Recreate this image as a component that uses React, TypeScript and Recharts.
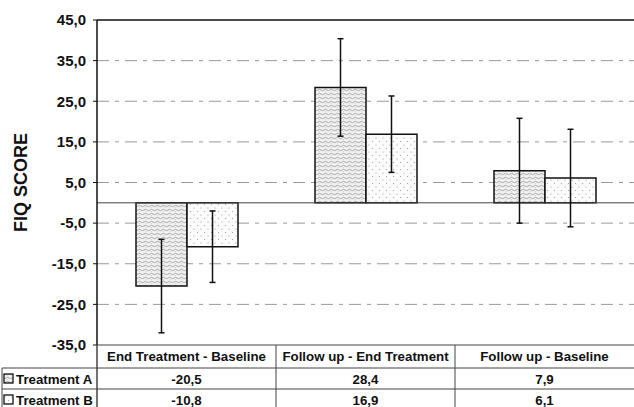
import React from "react";
import {
  BarChart, Bar, XAxis, YAxis, CartesianGrid, ErrorBar, ReferenceLine,
} from "recharts";

const categories = ["End Treatment - Baseline", "Follow up - End Treatment", "Follow up - Baseline"];
const treatmentA = [-20.5, 28.4, 7.9];
const treatmentB = [-10.8, 16.9, 6.1];
const errorA = [11.5, 12.0, 12.9];
const errorB = [8.8, 9.4, 12.0];
const yTicks = [-35, -25, -15, -5, 5, 15, 25, 35, 45];

const W = 634;
const H = 407;
const LEFT = 97;
const TABLE_H = 62;
const BAND = (W - LEFT) / categories.length;
const FONT = "'Liberation Sans', Arial, Helvetica, sans-serif";
const LINE = "#444";

const data = categories.map((name, i) => ({
  name,
  a: treatmentA[i],
  b: treatmentB[i],
  errA: errorA[i],
  errB: errorB[i],
}));

const fmt = (v: number) => v.toFixed(1).replace(".", ",");

// one column of the data table under the plot, plus the row labels on the first one
const TableTick = (props: any) => {
  const { x, y, payload } = props;
  const i = payload.index ?? props.index ?? 0;
  const left = x - BAND / 2;
  const right = x + BAND / 2;
  const r1 = y + 23;
  const r2 = y + 44;
  const textStyle = { fontFamily: FONT, fontWeight: 700, fontSize: 13.3, fill: "#111" };
  return (
    <g>
      <line x1={left} y1={y} x2={right} y2={y} stroke={LINE} strokeWidth={1.2} />
      <line x1={left} y1={r1} x2={right} y2={r1} stroke={LINE} />
      <line x1={left} y1={r2} x2={right} y2={r2} stroke={LINE} />
      <line x1={left} y1={y} x2={left} y2={H} stroke={LINE} strokeWidth={i === 0 ? 1.5 : 1} />
      <text x={x} y={y + 16} textAnchor="middle" {...textStyle}>{payload.value}</text>
      <text x={x} y={y + 39} textAnchor="middle" {...textStyle}>{fmt(treatmentA[i])}</text>
      <text x={x} y={y + 60} textAnchor="middle" {...textStyle}>{fmt(treatmentB[i])}</text>
      {i === 0 && (
        <g>
          <line x1={2} y1={r1} x2={left} y2={r1} stroke={LINE} />
          <line x1={2} y1={r2} x2={left} y2={r2} stroke={LINE} />
          <line x1={2} y1={r1} x2={2} y2={H} stroke={LINE} />
          <rect x={4} y={r1 + 6} width={9} height={9} fill="url(#patA)" stroke="#111" strokeWidth={1.3} />
          <rect x={4} y={r2 + 6} width={9} height={9} fill="url(#patB)" stroke="#111" strokeWidth={1.3} />
          <text x={16} y={y + 39} {...textStyle}>Treatment A</text>
          <text x={16} y={y + 60} {...textStyle}>Treatment B</text>
        </g>
      )}
    </g>
  );
};

const YLabel = (props: any) => {
  const cy = props.viewBox ? props.viewBox.y + props.viewBox.height / 2 : 182;
  return (
    <text
      x={21}
      y={cy}
      transform={`rotate(-90, 21, ${cy})`}
      textAnchor="middle"
      dominantBaseline="central"
      style={{ fontFamily: FONT, fontWeight: 700, fontSize: 18, fill: "#111" }}
    >
      FIQ SCORE
    </text>
  );
};

export default function App() {
  return (
    <div style={{ position: "absolute", left: 0, top: 0, width: W, height: H, background: "#fff" }}>
      <BarChart
        width={W}
        height={H}
        data={data}
        margin={{ top: 20, right: 0, left: 0, bottom: 0 }}
        barGap={0}
      >
        <defs>
          <pattern id="patA" width="6" height="4" patternUnits="userSpaceOnUse">
            <rect width="6" height="4" fill="#f2f2f2" />
            <path d="M0 2 Q1.5 0.6 3 2 T6 2" fill="none" stroke="#8a8a8a" strokeWidth="0.7" />
            <circle cx="1.5" cy="3.4" r="0.35" fill="#999" />
          </pattern>
          <pattern id="patB" width="7" height="7" patternUnits="userSpaceOnUse">
            <rect width="7" height="7" fill="#fcfcfc" />
            <circle cx="1.5" cy="1.5" r="0.6" fill="#9a9a9a" />
            <circle cx="5" cy="5" r="0.6" fill="#9a9a9a" />
          </pattern>
        </defs>
        <CartesianGrid
          vertical={false}
          stroke="#9a9a9a"
          strokeDasharray="12 6 4 6"
          horizontalValues={[-25, -15, -5, 5, 15, 25, 35]}
        />
        <XAxis
          dataKey="name"
          height={TABLE_H}
          axisLine={false}
          tickLine={false}
          tickSize={0}
          tickMargin={0}
          interval={0}
          tick={<TableTick />}
        />
        <YAxis
          width={LEFT}
          domain={[-35, 45]}
          ticks={yTicks}
          allowDataOverflow
          tickFormatter={fmt}
          axisLine={{ stroke: "#111", strokeWidth: 1.5 }}
          tickLine={{ stroke: "#111" }}
          tickSize={4}
          tickMargin={7}
          tick={{ fontFamily: FONT, fontWeight: 700, fontSize: 15, fill: "#111" }}
          label={<YLabel />}
        />
        <ReferenceLine y={45} stroke="#111" strokeWidth={1.5} />
        <ReferenceLine y={0} stroke="#444" strokeWidth={1} />
        <Bar dataKey="a" barSize={51} fill="url(#patA)" stroke="#111" strokeWidth={1.5} isAnimationActive={false}>
          <ErrorBar dataKey="errA" width={3} stroke="#111" strokeWidth={1.5} direction="y" isAnimationActive={false} />
        </Bar>
        <Bar dataKey="b" barSize={51} fill="url(#patB)" stroke="#111" strokeWidth={1.5} isAnimationActive={false}>
          <ErrorBar dataKey="errB" width={3} stroke="#111" strokeWidth={1.5} direction="y" isAnimationActive={false} />
        </Bar>
      </BarChart>
    </div>
  );
}
